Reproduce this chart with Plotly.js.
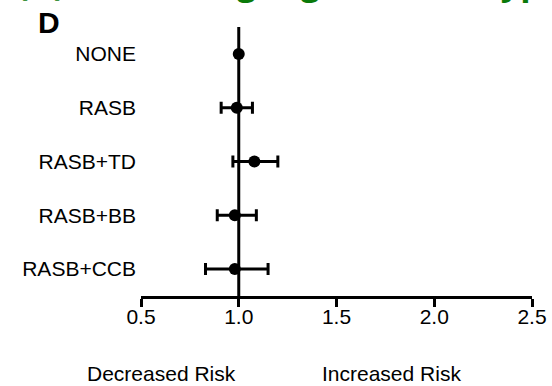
<!DOCTYPE html>
<html>
<head>
<meta charset="utf-8">
<script src="https://cdn.plot.ly/plotly-3.0.1.min.js"></script>
<style>
  html, body { margin: 0; padding: 0; background: #ffffff; }
  #chart { width: 552px; height: 386px; }
</style>
</head>
<body>
<div id="chart"></div>
<script>
// Data (hazard ratio with 95% CI)
const categories = ["NONE", "RASB", "RASB+TD", "RASB+BB", "RASB+CCB"];
const estimates  = [1.00, 0.99, 1.08, 0.98, 0.98];
const lowerCI    = [null, 0.91, 0.97, 0.89, 0.83];
const upperCI    = [null, 1.07, 1.20, 1.09, 1.15];
const xTicks     = [0.5, 1.0, 1.5, 2.0, 2.5];
const xTickText  = ["0.5", "1.0", "1.5", "2.0", "2.5"];
const referenceValue = 1.0;
const panelTitle = "(D) Combining regimens of Hypertension";
const panelLetter = "D";
const sideLabels = ["Decreased Risk", "Increased Risk"];

const plus  = estimates.map((v, i) => upperCI[i] == null ? NaN : upperCI[i] - v);
const minus = estimates.map((v, i) => lowerCI[i] == null ? NaN : v - lowerCI[i]);

const FONT = "Liberation Sans, Arial, Helvetica, sans-serif";

const trace = {
  type: "scatter",
  mode: "markers",
  x: estimates,
  y: categories,
  marker: { color: "#000000", size: 12 },
  error_x: {
    type: "data",
    symmetric: false,
    array: plus,
    arrayminus: minus,
    color: "#000000",
    thickness: 3,
    width: 6
  },
  hoverinfo: "skip",
  showlegend: false,
  cliponaxis: false
};

const layout = {
  width: 552,
  height: 386,
  margin: { l: 140.5, r: 20, t: 27, b: 90, pad: 0 },
  paper_bgcolor: "#ffffff",
  plot_bgcolor: "#ffffff",
  font: { family: FONT, size: 21, color: "#000000" },
  xaxis: {
    range: [0.5, 2.5],
    tickvals: xTicks,
    ticktext: xTickText,
    showgrid: false,
    zeroline: false,
    showline: true,
    linecolor: "#000000",
    linewidth: 3,
    ticks: "outside",
    ticklen: 8,
    tickwidth: 3,
    tickcolor: "#000000",
    ticklabelstandoff: -8,
    tickfont: { family: FONT, size: 21, color: "#000000" },
    fixedrange: true
  },
  yaxis: {
    type: "category",
    categoryorder: "array",
    categoryarray: categories,
    range: [4.5, -0.5],
    showgrid: false,
    zeroline: false,
    showline: false,
    ticks: "",
    ticklabelstandoff: 4,
    tickfont: { family: FONT, size: 21, color: "#000000" },
    fixedrange: true
  },
  shapes: [
    {
      type: "line",
      xref: "x", yref: "paper",
      x0: referenceValue, x1: referenceValue,
      y0: 0, y1: 1,
      line: { color: "#000000", width: 3 },
      layer: "below"
    }
  ],
  annotations: [
    {
      text: "<b>" + panelTitle + "</b>",
      xref: "paper", yref: "paper",
      x: (14 - 140.5) / 391.5, y: 1 + (27 - 7) / 269,
      xanchor: "left", yanchor: "bottom",
      showarrow: false,
      font: { family: "Open Sans, Liberation Sans, sans-serif", size: 34, color: "#0a7a0a" }
    },
    {
      text: "<b>" + panelLetter + "</b>",
      xref: "paper", yref: "paper",
      x: (48 - 140.5) / 391.5, y: 1 + (27 - 23) / 269,
      xanchor: "center", yanchor: "middle",
      showarrow: false,
      font: { family: FONT, size: 30, color: "#000000" }
    },
    {
      text: sideLabels[0],
      xref: "paper", yref: "paper",
      x: (161 - 140.5) / 391.5, y: -(373 - 296) / 269,
      xanchor: "center", yanchor: "middle",
      showarrow: false,
      font: { family: FONT, size: 21, color: "#000000" }
    },
    {
      text: sideLabels[1],
      xref: "paper", yref: "paper",
      x: (391 - 140.5) / 391.5, y: -(373 - 296) / 269,
      xanchor: "center", yanchor: "middle",
      showarrow: false,
      font: { family: FONT, size: 21, color: "#000000" }
    }
  ]
};

Plotly.newPlot("chart", [trace], layout, { displayModeBar: false, staticPlot: true });
</script>
</body>
</html>
